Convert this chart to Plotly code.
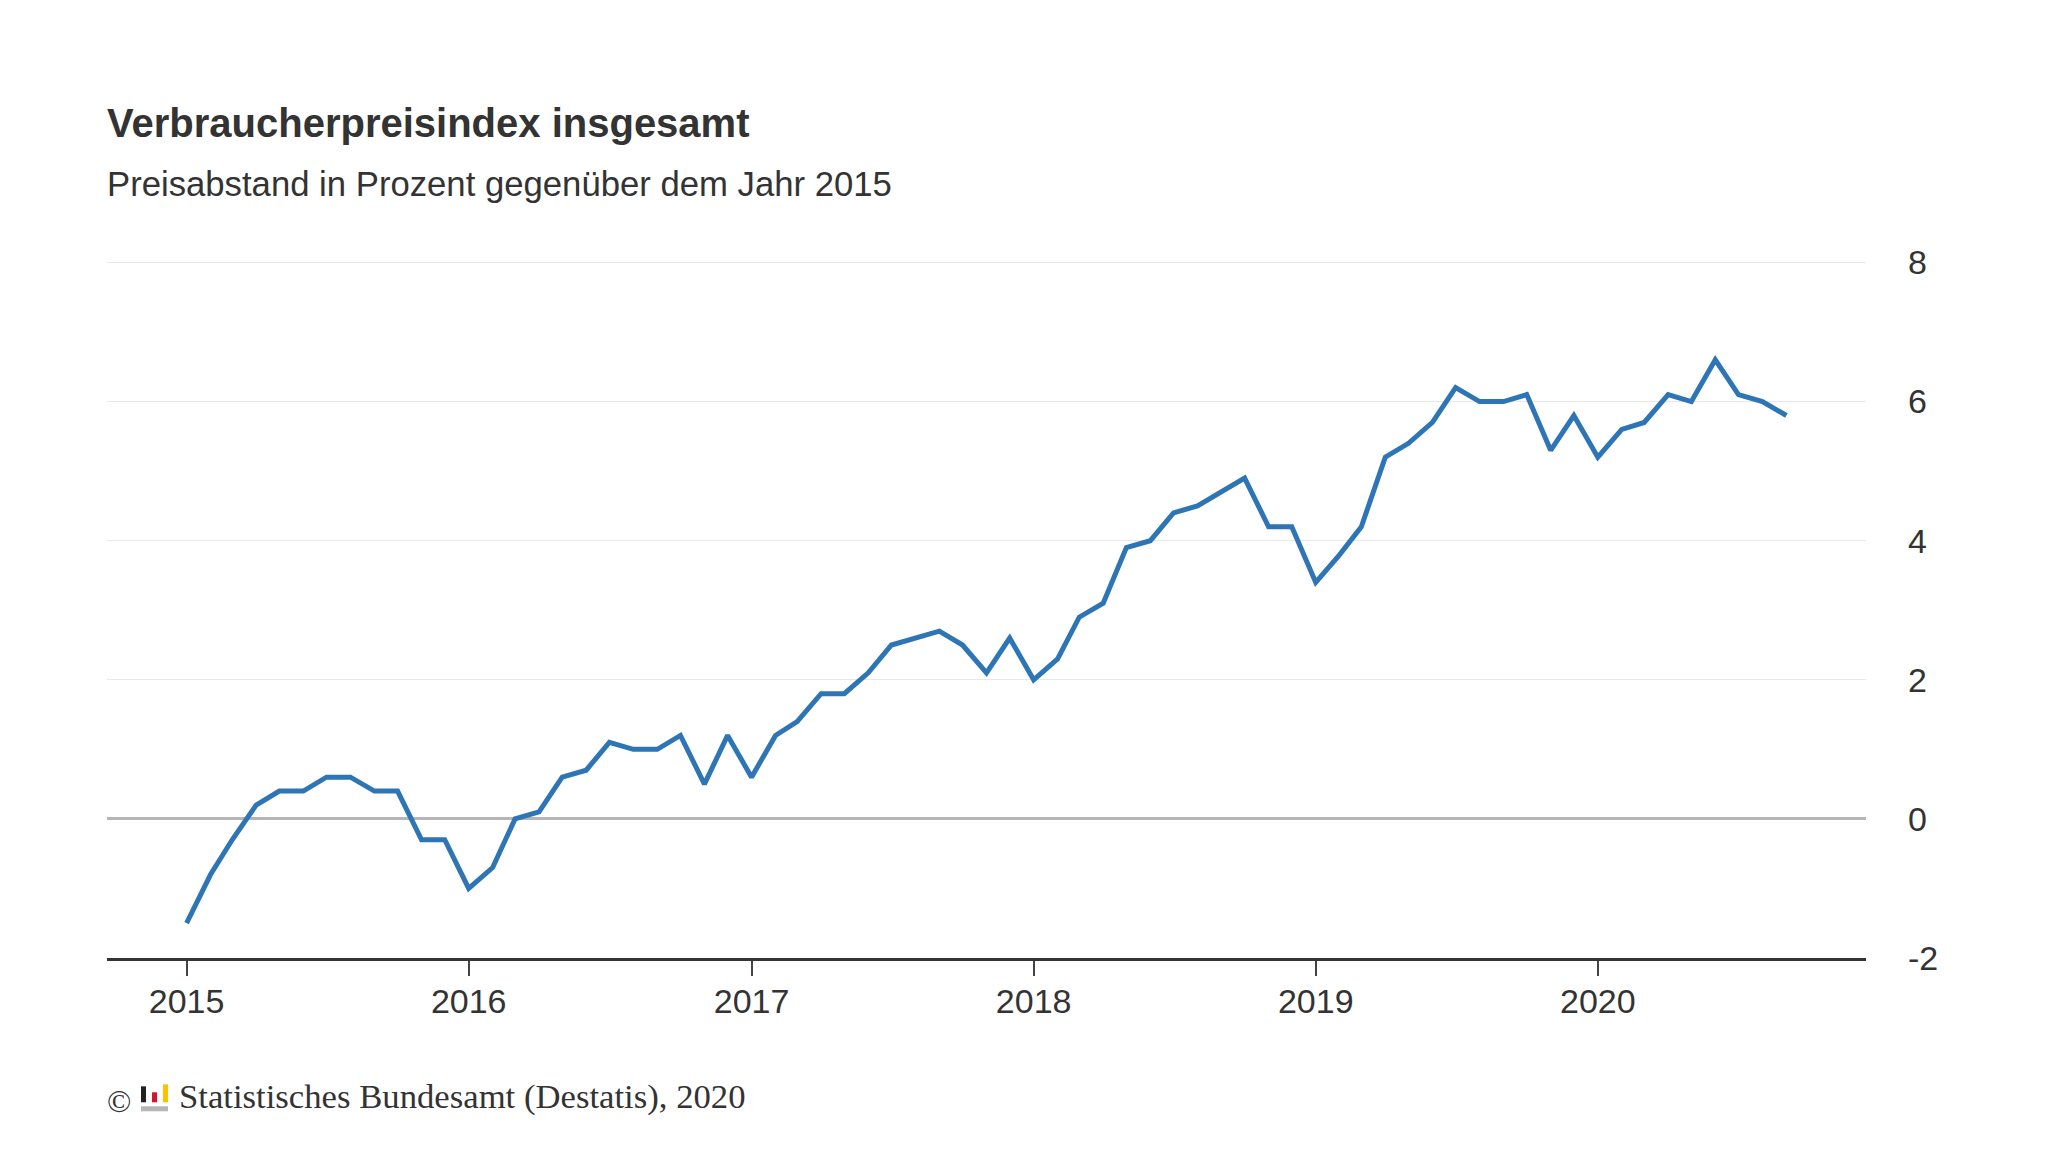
import plotly.graph_objects as go

TITLE = "Verbraucherpreisindex insgesamt"
SUBTITLE = "Preisabstand in Prozent gegenüber dem Jahr 2015"
SOURCE = "Statistisches Bundesamt (Destatis), 2020"

years = [2015, 2016, 2017, 2018, 2019, 2020]
y_ticks = [-2, 0, 2, 4, 6, 8]
y_labels = ["-2", "0", "2", "4", "6", "8"]

v2015 = [-1.5, -0.8, -0.3, 0.2, 0.4, 0.4, 0.6, 0.6, 0.4, 0.4, -0.3, -0.3]
v2016 = [-1.0, -0.7, 0.0, 0.1, 0.6, 0.7, 1.1, 1.0, 1.0, 1.2, 0.5, 1.2]
v2017 = [0.6, 1.2, 1.4, 1.8, 1.8, 2.1, 2.5, 2.6, 2.7, 2.5, 2.1, 2.6]
v2018 = [2.0, 2.3, 2.9, 3.1, 3.9, 4.0, 4.4, 4.5, 4.7, 4.9, 4.2, 4.2]
v2019 = [3.4, 3.8, 4.2, 5.2, 5.4, 5.7, 6.2, 6.0, 6.0, 6.1, 5.3, 5.8]
v2020 = [5.2, 5.6, 5.7, 6.1, 6.0, 6.6, 6.1, 6.0, 5.8]

series = {2015: v2015, 2016: v2016, 2017: v2017, 2018: v2018, 2019: v2019, 2020: v2020}
dates, values = [], []
for yr, vals in series.items():
    for m, v in enumerate(vals, start=1):
        dates.append(f"{yr}-{m:02d}-01")
        values.append(v)

W, H = 2048, 1152
L, R, T, B = 107, 1866, 258.5, 958.5
TEXT = "#333333"
SANS = "Liberation Sans, Arial, sans-serif"
SERIF = "Liberation Serif, Times New Roman, serif"

def px(x):
    return (x - L) / (R - L)

def py(y):
    return (B - y) / (B - T)

fig = go.Figure(go.Scatter(
    x=dates, y=values, mode="lines",
    line=dict(color="#2e75b6", width=5),
    hoverinfo="x+y", showlegend=False,
))

def note(text, x, y, size, family=SANS, bold=False):
    fig.add_annotation(
        text=f"<b>{text}</b>" if bold else text,
        xref="paper", yref="paper", x=px(x), y=py(y),
        xanchor="left", yanchor="middle", showarrow=False, align="left",
        font=dict(size=size, family=family, color=TEXT),
    )

note(TITLE, 105, 122, 40, bold=True)
note(SUBTITLE, 105, 183, 34.7)
note("©", 105, 1102, 32, family=SERIF)
note(SOURCE, 177, 1097, 34.7, family=SERIF)

# Destatis logo
for x0, x1, y0, y1, col in [
    (141, 146, 1087, 1103, "#222222"),
    (152, 157, 1093, 1103, "#d0172f"),
    (163, 168, 1085, 1103, "#fcc200"),
    (141, 168, 1107, 1112, "#b5b5b5"),
]:
    fig.add_shape(type="rect", xref="paper", yref="paper",
                  x0=px(x0), x1=px(x1), y0=py(y0), y1=py(y1),
                  fillcolor=col, line_width=0, layer="above")

fig.update_layout(
    width=W, height=H, autosize=False,
    margin=dict(l=L, r=W - R, t=T, b=H - B, pad=0),
    paper_bgcolor="white", plot_bgcolor="white",
    showlegend=False,
    font=dict(family=SANS, color=TEXT),
)
fig.update_xaxes(
    type="date",
    range=["2014-09-20", "2020-12-13"],
    tickvals=[f"{y}-01-01" for y in years],
    ticktext=[str(y) for y in years],
    ticks="outside", ticklen=15, tickwidth=2, tickcolor="#444444",
    showline=True, linecolor="#333333", linewidth=2.5,
    showgrid=False, zeroline=False,
    tickfont=dict(size=34, family=SANS, color=TEXT),
    ticklabelstandoff=-4,
    anchor="y",
)
fig.update_yaxes(
    range=[-2, 8.05], side="right",
    tickvals=y_ticks, ticktext=y_labels,
    ticks="", showline=False,
    showgrid=True, gridcolor="#e8e8e8", gridwidth=1,
    zeroline=True, zerolinecolor="#b5b5b5", zerolinewidth=2.5,
    tickfont=dict(size=34, family=SANS, color=TEXT),
    ticklabelstandoff=41,
)
fig.write_html("out.html", config={"displayModeBar": False},
               post_script="document.body.style.margin='0';")
